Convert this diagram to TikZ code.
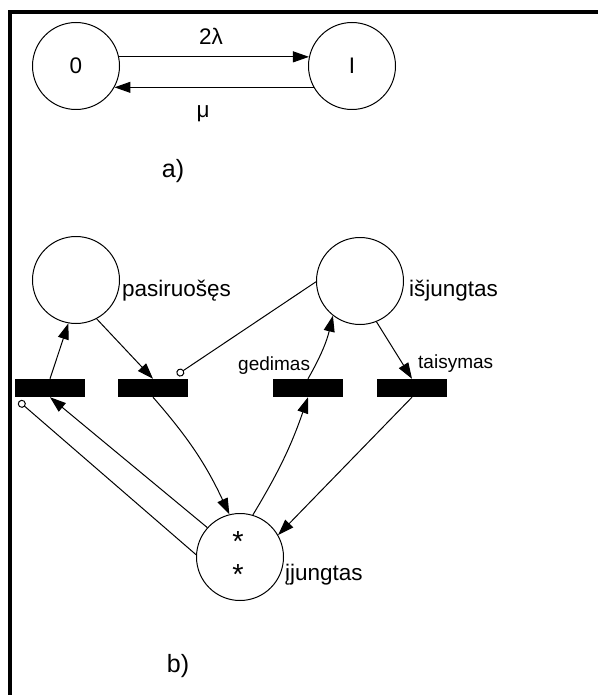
\documentclass[tikz,border=0pt]{standalone}
\usepackage{fontspec}
\setmainfont{Liberation Sans}
\usetikzlibrary{arrows.meta,calc}
\begin{document}
\begin{tikzpicture}[x=1pt,y=-1pt,
  place/.style={circle,draw,line width=1pt,minimum size=87pt,inner sep=0pt,
    font=\fontsize{22.5}{27}\selectfont},
  trans/.style={rectangle,fill=black,minimum width=70pt,minimum height=18pt,inner sep=0pt},
  flow/.style={line width=1pt,-{Triangle[length=16pt,width=11pt]}},
  inhib/.style={line width=1pt,-{Circle[open,length=8pt,width=8pt]}},
  lbl/.style={font=\fontsize{22.5}{27}\selectfont,inner sep=0pt,anchor=base west},
  slbl/.style={font=\fontsize{19}{23}\selectfont,inner sep=0pt,anchor=base west},
  midlbl/.style={font=\fontsize{22.5}{27}\selectfont,inner sep=0pt,anchor=base},
  token/.style={font=\fontsize{29}{34}\selectfont,inner sep=0pt,anchor=base},
  figcap/.style={font=\fontsize{25}{30}\selectfont,inner sep=0pt,anchor=base},
]
\useasboundingbox (0,0) rectangle (598,695);

% frame
\draw[line width=4pt] (10,695) -- (10,12) -- (598,12);

% a) two-state chain
\node[place] (s0) at (76,66) {0};
\node[place] (s1) at (352,66) {I};
\draw[flow] (s0.12) -- (s1.168);
\draw[flow] (s1.-151) -- (s0.-29);
\node[midlbl] (rate1) at (211,45) {2λ};
\node[midlbl] (rate2) at (203,118) {μ};
\node[figcap] (capa) at (173,177) {a)};

% b) Petri net
\node[place] (P) at (76,280) {};
\node[place] (X) at (360,281) {};
\node[place] (J) at (240,557) {};
\node[token] (tok1) at (238,551) {*};
\node[token] (tok2) at (238,584) {*};

\node[lbl] (lP) at (122,296) {pasiruošęs};
\node[lbl] (lX) at (409,296) {išjungtas};
\node[lbl] (lJ) at (285,580) {įjungtas};

\node[trans] (T1) at (50,388) {};
\node[trans] (T2) at (153,388) {};
\node[trans] (T3) at (308,388) {};
\node[trans] (T4) at (412,388) {};

\node[slbl] (lT3) at (238,370) {gedimas};
\node[slbl] (lT4) at (418,368) {taisymas};

\coordinate (i2) at ($(T2.north)+(24,-4)$);
\coordinate (i1) at ($(T1.south west)+(4,4)$);

\draw[flow] (T1.north) -- (P.260);
\draw[flow] (P.298) -- (T2.north);
\draw[inhib] (X.181) -- (i2);
\draw[flow] (T2.south) to[bend left=8] (J.104);
\draw[flow] (J.73) to[bend right=6] (T3.south);
\draw[flow] (T3.north) to[bend right=8] (X.232);
\draw[flow] (X.292) -- (T4.north);
\draw[flow] (T4.south) -- (J.30);
\draw[flow] (J.138) -- (T1.south);
\draw[inhib] (J.177) -- (i1);

\node[figcap] (capb) at (178,672) {b)};
\end{tikzpicture}
\end{document}
